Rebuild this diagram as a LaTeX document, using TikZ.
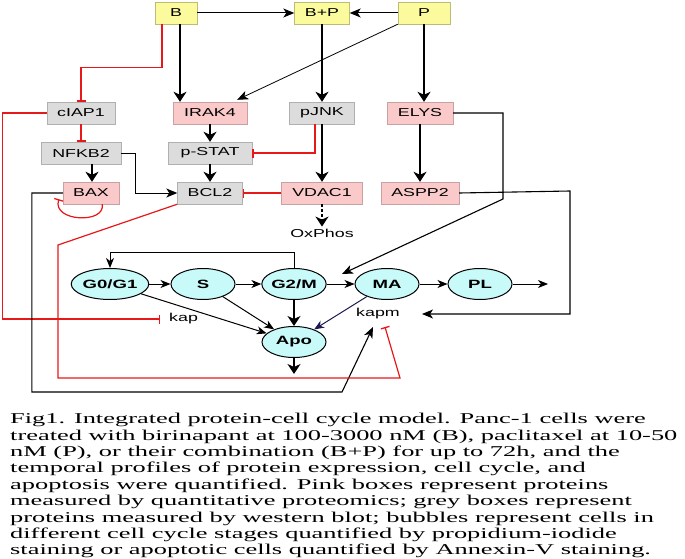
\documentclass[tikz,border=0pt]{standalone}
\usepackage{fontspec}
\setmainfont{Liberation Serif}[FakeStretch=1.76]
\newfontfamily\boxfont{Liberation Sans}[FakeStretch=1.55]
\usetikzlibrary{arrows.meta,calc,shapes.geometric}
\definecolor{ylw}{HTML}{FBFB9E}
\definecolor{pnk}{HTML}{FACACA}
\definecolor{gry}{HTML}{DCDCDC}
\definecolor{cyn}{HTML}{C8FAFA}
\definecolor{inhred}{HTML}{E81818}
\definecolor{navy}{HTML}{1A1A50}
\begin{document}
\begin{tikzpicture}[x=1pt,y=-1pt,
  box/.style={rectangle,minimum height=22pt,inner sep=1pt,font=\boxfont\fontsize{11.5}{12}\selectfont},
  ybox/.style={box,fill=ylw,draw=ylw!75!black,line width=0.4pt},
  pbox/.style={box,fill=pnk,draw=pnk!80!black,line width=0.4pt},
  gbox/.style={box,fill=gry,draw=gry!80!black,line width=0.4pt},
  cell/.style={ellipse,draw=black,line width=1pt,fill=cyn,minimum width=64pt,minimum height=31pt,inner sep=0pt,font=\boxfont\bfseries\fontsize{12}{13}\selectfont},
  lbl/.style={font=\boxfont\fontsize{11.5}{12}\selectfont,inner sep=1pt},
  bigarr/.style={line width=1.4pt,-{Stealth[length=10pt,width=13pt,inset=3pt]}},
  arr/.style={line width=1pt,-{Stealth[length=10pt,width=8pt,inset=3pt]}},
  thinarr/.style={line width=1pt,-{Stealth[length=11pt,width=9pt,inset=3pt]}},
  inh/.style={draw=inhred,line width=1.2pt,-{Bar[width=9pt,line width=1.3pt]}},
  plain/.style={line width=1.1pt}]
\useasboundingbox (0,0) rectangle (685,559);
\fill[white] (0,0) rectangle (685,559);

% boxes
\node[ybox,minimum width=42pt] (B) at (176,13) {B};
\node[ybox,minimum width=55pt] (BP) at (322,13) {B+P};
\node[ybox,minimum width=52pt] (P) at (424,13) {P};
\node[gbox,minimum width=68pt] (cIAP1) at (81,113) {cIAP1};
\node[pbox,minimum width=74pt] (IRAK4) at (210,113) {IRAK4};
\node[gbox,minimum width=65pt] (pJNK) at (322,113) {pJNK};
\node[pbox,minimum width=66pt] (ELYS) at (420,113) {ELYS};
\node[gbox,minimum width=80pt] (NFKB2) at (81,153) {NFKB2};
\node[gbox,minimum width=84pt] (pSTAT) at (210,153) {p-STAT};
\node[pbox,minimum width=56pt] (BAX) at (91,193) {BAX};
\node[gbox,minimum width=65pt] (BCL2) at (210,193) {BCL2};
\node[pbox,minimum width=81pt] (VDAC1) at (322,193) {VDAC1};
\node[pbox,minimum width=78pt] (ASPP2) at (420,193) {ASPP2};
\node[lbl] (Ox) at (322,233) {OxPhos};

% cells
\node[cell] (G0) at (110,284) {G0/G1};
\node[cell] (S) at (203,284) {S};
\node[cell] (G2) at (294,284) {G2/M};
\node[cell] (MA) at (387,284) {MA};
\node[cell] (PL) at (480,284) {PL};
\node[cell] (Apo) at (294,342) {Apo};
\node[lbl,anchor=west] (kap) at (168,319) {kap};
\node[lbl] (kapm) at (378,314) {kapm};

% free ends
\coordinate (plout) at (548,284);
\coordinate (apoout) at (294,374);
\coordinate (kmtip) at (373,327);
\coordinate (matip) at (342,274);

% top signalling
\draw[thinarr] (B) -- (BP);
\draw[thinarr] (P) -- (BP);
\draw[inh] ($(B.south)+(-14,0)$) -- ++(0,43) -| (cIAP1.north);
\draw[bigarr] ($(B.south)+(4,0)$) coordinate (b1) -- (b1 |- IRAK4.north);
\draw[line width=0.8pt,-{Stealth[length=11pt,width=9pt,inset=3pt]}] (P.south west) -- ($(IRAK4.north east)+(-10,-2)$);
\draw[bigarr] (BP) -- (pJNK);
\draw[bigarr] ($(P.south)$) -- ($(ELYS.north)+(4,0)$);
\draw[bigarr] (IRAK4) -- (pSTAT);
\draw[bigarr] (pSTAT) -- (BCL2);
\draw[inh] (cIAP1) -- (NFKB2);
\draw[bigarr] ($(NFKB2.south)+(11,0)$) -- (BAX.north -| {$(NFKB2.south)+(11,0)$});
\draw[inh] ($(pJNK.south)+(-7,0)$) |- (pSTAT.east);
\draw[bigarr] (pJNK) -- (VDAC1);
\draw[bigarr] (ELYS) -- (ASPP2);
\draw[inh] (VDAC1) -- (BCL2);
\draw[bigarr,dashed,dash pattern=on 3pt off 2pt] (VDAC1.south) -- ($(Ox.north)+(0,-1)$);
\draw[thinarr] (NFKB2.east) -- ++(14,0) |- (BCL2.west);

% long connectors
\draw[inh] (cIAP1.west) -- ++(-44,0) |- ($(kap.west)+(-8,0)$);
\draw[inh] ($(BAX.south east)+(-17,0)$) .. controls (106,224) and (52,222) .. ($(BAX.south west)+(-4,-5)$);
\draw[plain,draw=black,-{Stealth[length=11pt,width=9pt,inset=3pt]}] (BAX.west) -- ++(-31,0) |- (342,392) -- (kmtip);
\draw[inh] (BCL2.south west) -- (58,245) -- (58,378) -- (400,378) -- (385,327);
\draw[plain,-{Stealth[length=11pt,width=9pt,inset=3pt]}] (ELYS.east) -- (503,113) -- (503,199) -- (matip);
\draw[plain,-{Stealth[length=11pt,width=9pt,inset=3pt]}] (ASPP2.east) -- (570,191) |- ($(kapm.east)+(21,0)$);

% cell cycle
\draw[arr] (G0) -- (S);
\draw[arr] (S) -- (G2);
\draw[arr] (G2) -- (MA);
\draw[arr] (MA) -- (PL);
\draw[arr] (PL) -- (plout);
\draw[arr] (G2.north) -- ++(0,-16) -| (G0.north);
\draw[arr] (G0) -- (Apo);
\draw[arr] (S) -- (Apo);
\draw[bigarr] (G2) -- (Apo);
\draw[arr,draw=navy] (MA) -- (Apo);
\draw[bigarr] (Apo.south) -- (apoout);

% caption
\node[anchor=north west,align=left,inner sep=0pt,font=\fontsize{15}{16.4}\selectfont] (cap) at (10,413) {%
Fig1. Integrated protein-cell cycle model. Panc-1 cells were\\
treated with birinapant at 100-3000 nM (B), paclitaxel at 10-50\\
nM (P), or their combination (B+P) for up to 72h, and the\\
temporal profiles of protein expression, cell cycle, and\\
apoptosis were quantified. Pink boxes represent proteins\\
measured by quantitative proteomics; grey boxes represent\\
proteins measured by western blot; bubbles represent cells in\\
different cell cycle stages quantified by propidium-iodide\\
staining or apoptotic cells quantified by Annexin-V staining.};
\end{tikzpicture}
\end{document}
